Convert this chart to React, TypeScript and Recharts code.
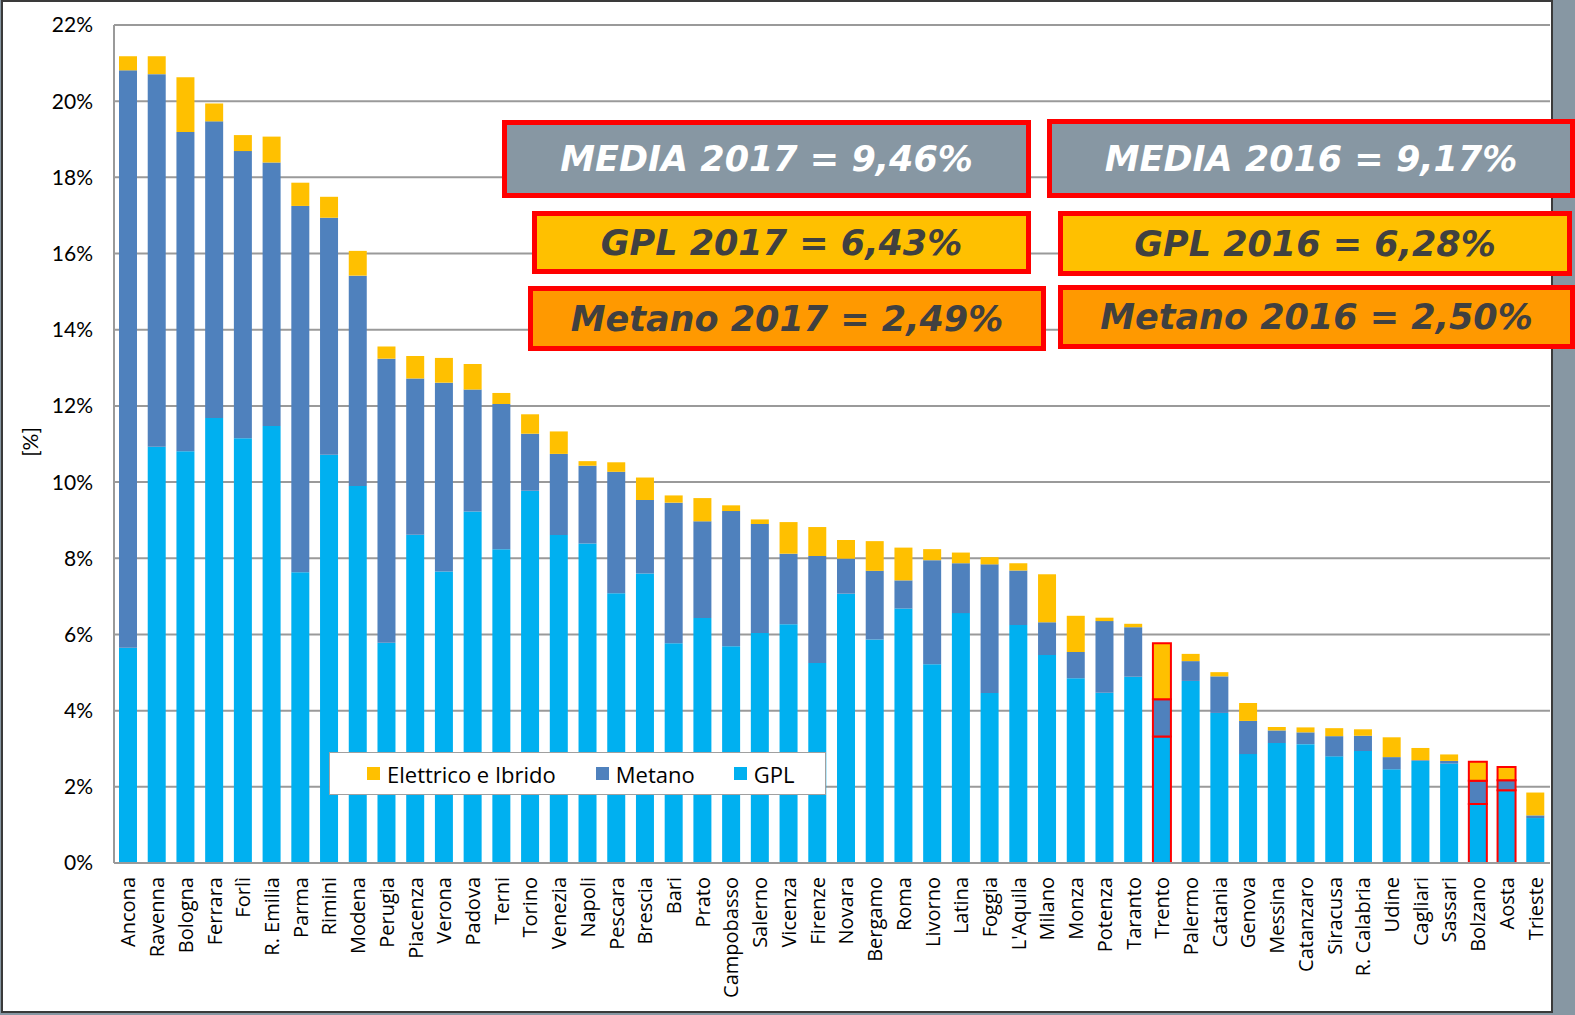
import React from "react";
import { BarChart, Bar, XAxis, YAxis, CartesianGrid, Cell } from "recharts";

const cities = [
  "Ancona", "Ravenna", "Bologna", "Ferrara", "Forlì", "R. Emilia", "Parma", "Rimini", "Modena", "Perugia",
  "Piacenza", "Verona", "Padova", "Terni", "Torino", "Venezia", "Napoli", "Pescara", "Brescia", "Bari",
  "Prato", "Campobasso", "Salerno", "Vicenza", "Firenze", "Novara", "Bergamo", "Roma", "Livorno", "Latina",
  "Foggia", "L'Aquila", "Milano", "Monza", "Potenza", "Taranto", "Trento", "Palermo", "Catania", "Genova",
  "Messina", "Catanzaro", "Siracusa", "R. Calabria", "Udine", "Cagliari", "Sassari", "Bolzano", "Aosta", "Trieste",
];

const gpl = [
  5.65, 10.93, 10.81, 11.68, 11.15, 11.47, 7.63, 10.72, 9.9, 5.78,
  8.62, 7.65, 9.23, 8.24, 9.77, 8.61, 8.39, 7.08, 7.6, 5.77,
  6.43, 5.69, 6.04, 6.27, 5.25, 7.07, 5.87, 6.68, 5.22, 6.56,
  4.46, 6.25, 5.46, 4.85, 4.47, 4.89, 3.32, 4.78, 3.94, 2.86,
  3.15, 3.12, 2.8, 2.94, 2.46, 2.68, 2.61, 1.55, 1.91, 1.18,
];

const metano = [
  15.16, 9.78, 8.38, 7.79, 7.54, 6.92, 9.62, 6.22, 5.52, 7.46,
  4.1, 4.96, 3.2, 3.81, 1.5, 2.13, 2.04, 3.19, 1.93, 3.69,
  2.54, 3.55, 2.86, 1.85, 2.81, 0.92, 1.8, 0.74, 2.73, 1.31,
  3.38, 1.43, 0.86, 0.69, 1.88, 1.3, 0.98, 0.52, 0.96, 0.87,
  0.33, 0.31, 0.53, 0.4, 0.32, 0.02, 0.07, 0.61, 0.26, 0.07,
];

const elettrico = [
  0.37, 0.47, 1.44, 0.47, 0.42, 0.68, 0.61, 0.55, 0.65, 0.32,
  0.59, 0.65, 0.67, 0.29, 0.51, 0.59, 0.12, 0.25, 0.59, 0.19,
  0.61, 0.15, 0.12, 0.83, 0.76, 0.49, 0.78, 0.86, 0.29, 0.28,
  0.19, 0.19, 1.26, 0.95, 0.09, 0.09, 1.47, 0.19, 0.11, 0.47,
  0.09, 0.13, 0.21, 0.17, 0.52, 0.32, 0.17, 0.5, 0.35, 0.6,
];

const yTicks = [0, 2, 4, 6, 8, 10, 12, 14, 16, 18, 20, 22];

const highlighted = ["Trento", "Bolzano", "Aosta"];

// legend order (top of stack first)
const series = [
  { key: "elettrico", name: "Elettrico e Ibrido", color: "#FFC000" },
  { key: "metano", name: "Metano", color: "#4F81BD" },
  { key: "gpl", name: "GPL", color: "#00B0F0" },
];

const data = cities.map((city, i) => ({
  city,
  gpl: gpl[i],
  metano: metano[i],
  elettrico: elettrico[i],
}));

const boxes = [
  { text: "MEDIA 2017 = 9,46%", left: 502, top: 120, width: 529, height: 78, bg: "#8797A3", color: "#ffffff" },
  { text: "MEDIA 2016 = 9,17%", left: 1047, top: 119, width: 528, height: 79, bg: "#8797A3", color: "#ffffff" },
  { text: "GPL 2017 = 6,43%", left: 532, top: 211, width: 499, height: 63, bg: "#FFC000", color: "#404040" },
  { text: "GPL 2016 = 6,28%", left: 1058, top: 211, width: 514, height: 65, bg: "#FFC000", color: "#404040" },
  { text: "Metano 2017 = 2,49%", left: 528, top: 286, width: 518, height: 65, bg: "#FF9900", color: "#404040" },
  { text: "Metano 2016 = 2,50%", left: 1058, top: 285, width: 517, height: 64, bg: "#FF9900", color: "#404040" },
];

const CityTick = (props: any) => {
  const { x, y, payload } = props;
  return (
    <text
      x={x}
      y={y}
      transform={`rotate(-90 ${x} ${y})`}
      textAnchor="end"
      dy="0.35em"
      fontSize={20}
      fontFamily="'Open Sans', sans-serif"
      fill="#000"
    >
      {payload.value}
    </text>
  );
};

export default function App() {
  return (
    <div
      style={{
        position: "absolute",
        left: 0,
        top: 0,
        width: 1575,
        height: 1015,
        background: "#8797A3",
        overflow: "hidden",
      }}
    >
      {/* white frame of the chart */}
      <div
        style={{
          position: "absolute",
          left: 1,
          top: 0,
          width: 1548,
          height: 1009,
          background: "#fff",
          border: "2px solid #3a3a3a",
        }}
      />

      <div style={{ position: "absolute", left: 0, top: 0 }}>
        <BarChart
          width={1551}
          height={1015}
          data={data}
          margin={{ top: 25, right: 1, left: 0, bottom: 2 }}
          barSize={18}
        >
          <CartesianGrid vertical={false} stroke="#9a9a9a" strokeWidth={2} />
          <XAxis
            dataKey="city"
            interval={0}
            height={150}
            tickLine={false}
            tickMargin={8}
            axisLine={{ stroke: "#9a9a9a", strokeWidth: 2 }}
            tick={<CityTick />}
          />
          <YAxis
            width={114}
            domain={[0, 22]}
            ticks={yTicks}
            interval={0}
            tickLine={false}
            tickMargin={15}
            axisLine={{ stroke: "#9a9a9a", strokeWidth: 2 }}
            tickFormatter={(v: number) => `${v}%`}
            tick={{ fill: "#000", fontSize: 21, fontFamily: "Lato, sans-serif" }}
          />
          {["gpl", "metano", "elettrico"].map((k) => {
            const s = series.find((d) => d.key === k)!;
            return (
              <Bar key={k} dataKey={k} stackId="a" fill={s.color} name={s.name} isAnimationActive={false}>
                {data.map((d) => (
                  <Cell
                    key={d.city}
                    fill={s.color}
                    stroke={highlighted.includes(d.city) ? "#FF0000" : "none"}
                    strokeWidth={highlighted.includes(d.city) ? 2 : 0}
                  />
                ))}
              </Bar>
            );
          })}
        </BarChart>
      </div>

      {/* y axis title */}
      <div
        style={{
          position: "absolute",
          left: 10,
          top: 430,
          width: 40,
          height: 24,
          transform: "rotate(-90deg)",
          fontFamily: "Lato, sans-serif",
          fontSize: 21,
          textAlign: "center",
          lineHeight: "24px",
          color: "#000",
        }}
      >
        [%]
      </div>

      {/* legend */}
      <div
        style={{
          position: "absolute",
          left: 329,
          top: 752,
          width: 497,
          height: 43,
          background: "#fff",
          border: "1.5px solid #a0a0a0",
          display: "flex",
          alignItems: "center",
          paddingLeft: 37,
          boxSizing: "border-box",
          fontFamily: "'Open Sans', sans-serif",
          fontSize: 22,
          color: "#000",
          whiteSpace: "nowrap",
        }}
      >
        {series.map((s, i) => (
          <div
            key={s.key}
            style={{ display: "flex", alignItems: "center", flexShrink: 0, marginRight: i === 0 ? 40 : 39 }}
          >
            <span
              style={{ width: 13, height: 13, background: s.color, display: "inline-block", marginRight: 7, flexShrink: 0 }}
            />
            <span>{s.name}</span>
          </div>
        ))}
      </div>

      {/* annotation boxes */}
      {boxes.map((b) => (
        <div
          key={b.text}
          style={{
            position: "absolute",
            left: b.left,
            top: b.top,
            width: b.width,
            height: b.height,
            boxSizing: "border-box",
            background: b.bg,
            border: "5px solid #FF0000",
            color: b.color,
            fontFamily: "'DejaVu Sans', sans-serif",
            fontWeight: "bold",
            fontStyle: "italic",
            fontSize: 35,
            display: "flex",
            alignItems: "center",
            justifyContent: "center",
            whiteSpace: "nowrap",
          }}
        >
          {b.text}
        </div>
      ))}
    </div>
  );
}
